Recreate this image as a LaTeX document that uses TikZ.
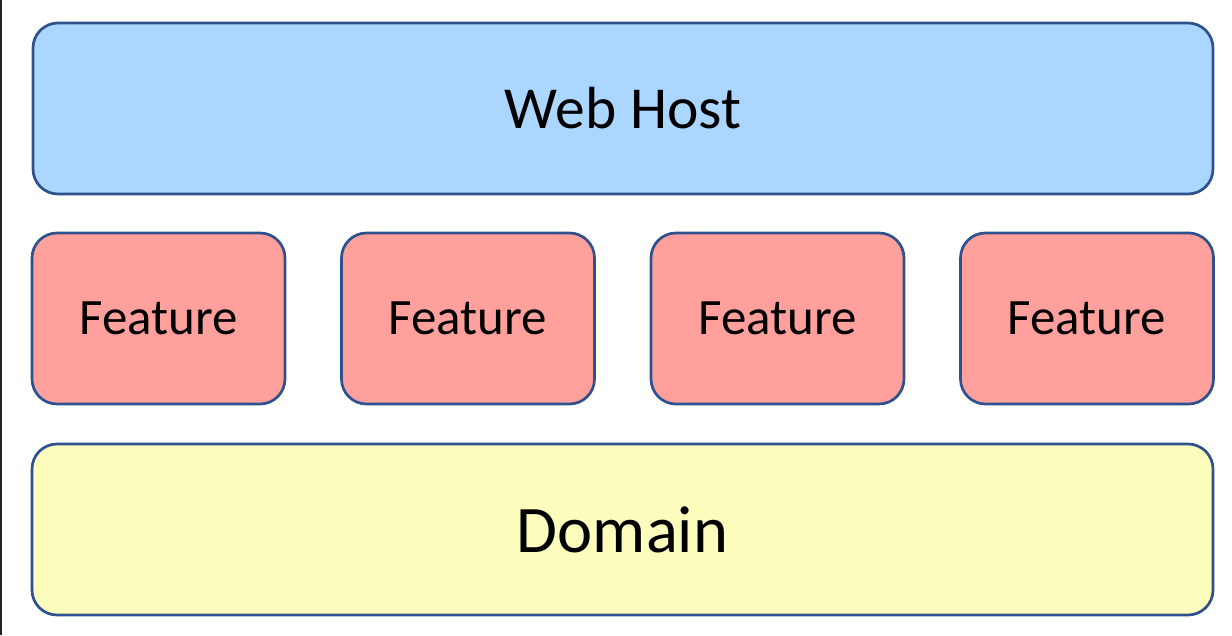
\documentclass[tikz,border=0pt]{standalone}
\usepackage{fontspec}
\setmainfont{Carlito}
\usepackage{tikz}
\usetikzlibrary{positioning}

\definecolor{hostblue}{RGB}{170,214,255}
\definecolor{featred}{RGB}{255,160,157}
\definecolor{domyellow}{RGB}{252,252,188}
\definecolor{edgeblue}{RGB}{47,82,143}
\definecolor{frameside}{RGB}{34,34,34}

\begin{document}
\begin{tikzpicture}[x=1pt, y=-1pt,
  layer/.style={draw=edgeblue, line width=2.7pt, rounded corners=25pt,
    minimum height=171pt, inner sep=0pt, text=black},
  feature/.style={layer, fill=featred, minimum width=253pt, font=\fontsize{51}{55}\selectfont}]
  \useasboundingbox (0,0) rectangle (1232,635);
  \fill[white] (0,0) rectangle (1232,635);
  % Screen edge (left)
  \fill[frameside] (0,0) rectangle (2,635);

  % Web host (top)
  \node[layer, fill=hostblue, minimum width=1180pt,
    font=\fontsize{59.5}{64}\selectfont] (host) at (623,108.5) {Web Host};

  % Features (middle row)
  \node[feature] (featA) at (158.5,318.5) {Feature};
  \node[feature] (featB) at (468,318.5) {Feature};
  \node[feature] (featC) at (777.5,318.5) {Feature};
  \node[feature] (featD) at (1087,318.5) {Feature};

  % Domain (bottom)
  \node[layer, fill=domyellow, minimum width=1181pt,
    font=\fontsize{66.5}{70}\selectfont] (domain) at (622.5,529.5) {Domain};

\end{tikzpicture}
\end{document}
